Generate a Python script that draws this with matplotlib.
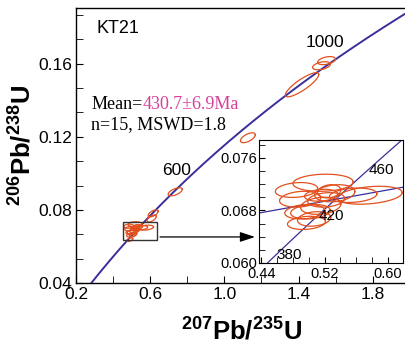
import numpy as np
import matplotlib
matplotlib.use("Agg")
import matplotlib.pyplot as plt
from matplotlib.patches import Rectangle
from matplotlib.ticker import MultipleLocator

plt.rcParams['font.family'] = ['Liberation Sans', 'DejaVu Sans']
plt.rcParams['mathtext.fontset'] = 'custom'
plt.rcParams['mathtext.rm'] = 'Liberation Sans:bold'
plt.rcParams['mathtext.bf'] = 'Liberation Sans:bold'
plt.rcParams['mathtext.it'] = 'Liberation Sans:bold'

# ---- data ----
sample = "KT21"
mean_label = "Mean="
mean_value = "430.7\u00b16.9Ma"
stats_label = "n=15, MSWD=1.8"

# decay constants (per year)
lambda238 = 1.55125e-10
lambda235 = 9.8485e-10

main_age_labels = [600, 1000]
main_age_label_x = [0.745, 1.54]
main_age_label_y = [0.1014, 0.1718]

inset_age_labels = [380, 420, 460]
inset_age_label_x = [0.4756, 0.528, 0.5918]
inset_age_label_y = [0.0612, 0.0672, 0.0742]

# outlying ellipses (main plot only): center x, center y, semi x, semi y, rho
out_x = [1.551, 1.524, 1.419, 1.127, 0.735, 0.616, 0.608, 0.49]
out_y = [0.1617, 0.1589, 0.1485, 0.1195, 0.0899, 0.0781, 0.0753, 0.0637]
out_sx = [0.048, 0.048, 0.090, 0.040, 0.038, 0.027, 0.025, 0.016]
out_sy = [0.0022, 0.0022, 0.0066, 0.0027, 0.0022, 0.0019, 0.0019, 0.0010]
out_rho = [0.4, 0.4, 0.85, 0.6, 0.6, 0.6, 0.6, 0.5]

# clustered ellipses (main plot and inset)
cl_x = [0.518, 0.4844, 0.489, 0.4946, 0.497, 0.5067, 0.577, 0.556,
        0.5327, 0.522, 0.515, 0.502, 0.5156, 0.5257]
cl_y = [0.0722, 0.0711, 0.0697, 0.0678, 0.0661, 0.0667, 0.0703, 0.0703,
        0.0706, 0.0696, 0.0687, 0.0678, 0.0703, 0.0709]
cl_sx = [0.038, 0.0267, 0.026, 0.025, 0.024, 0.021, 0.041, 0.030,
         0.0254, 0.0235, 0.0254, 0.025, 0.021, 0.0146]
cl_sy = [0.0013, 0.00113, 0.0012, 0.0011, 0.0010, 0.0011, 0.00136, 0.0011,
         0.0013, 0.0011, 0.0013, 0.0011, 0.0009, 0.0010]
cl_rho = [0.1, 0.2, 0.2, 0.2, 0.2, 0.2, 0.3, 0.2,
          0.2, 0.2, 0.2, 0.2, 0.2, 0.2]

# regression line in inset
reg_x = [0.40, 0.66]
reg_y = [0.0668, 0.0724]

# zoom box (main plot) and arrow
box_x = [0.454, 0.638]
box_y = [0.0636, 0.0734]
arrow_y = 0.0652
arrow_x_end = 1.18

ell_color = '#e2501e'
conc_color = '#3a2f9a'

fig = plt.figure(figsize=(4.06, 3.5), dpi=100)
ax = fig.add_axes([76/406, 1-283/350, 331/406, 275/350])

t = np.linspace(1e6, 1.3e9, 600)
cx = np.exp(lambda235*t) - 1
cy = np.exp(lambda238*t) - 1

def ellipse_pts(x0, y0, sx, sy, rho):
    th = np.linspace(0, 2*np.pi, 120)
    ex = x0 + sx*np.cos(th)
    ey = y0 + sy*(rho*np.cos(th) + np.sqrt(1-rho**2)*np.sin(th))
    return ex, ey

ax.plot(cx, cy, color=conc_color, lw=1.4, zorder=2)
for x0, y0, sx, sy, r in zip(out_x + cl_x, out_y + cl_y, out_sx + cl_sx,
                             out_sy + cl_sy, out_rho + cl_rho):
    ex, ey = ellipse_pts(x0, y0, sx, sy, r)
    ax.plot(ex, ey, color=ell_color, lw=0.9, zorder=3)

ax.set_xlim(0.2, 1.985)
ax.set_ylim(0.04, 0.1905)
ax.xaxis.set_minor_locator(MultipleLocator(0.2))
ax.yaxis.set_minor_locator(MultipleLocator(0.04/3))
ax.set_xticks([0.2, 0.6, 1.0, 1.4, 1.8])
ax.set_xticklabels(['0.2', '0.6', '1.0', '1.4', '1.8'])
ax.set_yticks([0.04, 0.08, 0.12, 0.16])
ax.set_yticklabels(['0.04', '0.08', '0.12', '0.16'])
ax.tick_params(which='both', direction='in', labelsize=12.5, top=False, right=False, pad=3, length=5)
for s in ax.spines.values():
    s.set_linewidth(1.0)

ax.set_xlabel(r'$^{207}$Pb/$^{235}$U', fontsize=18.5, fontweight='bold', labelpad=11)
ax.set_ylabel(r'$^{206}$Pb/$^{238}$U', fontsize=18.5, fontweight='bold', labelpad=1)

ax.text(0.313, 0.1795, sample, fontsize=13, va='center', ha='left')
for lab, lx, ly in zip(main_age_labels, main_age_label_x, main_age_label_y):
    ax.text(lx, ly, str(lab), fontsize=12.5, ha='center', va='center')

t1 = ax.text(0.281, 0.1375, mean_label, fontsize=13, family='Liberation Serif',
             va='center', ha='left')
ax.annotate(mean_value, xy=(1, 0), xycoords=t1, va='bottom', ha='left',
            fontsize=13, family='Liberation Serif', color='#d6409a')
ax.text(0.281, 0.1265, stats_label, fontsize=13, family='Liberation Serif',
        va='center', ha='left')

ax.add_patch(Rectangle((box_x[0], box_y[0]), box_x[1]-box_x[0], box_y[1]-box_y[0],
                       fill=False, edgecolor='#333333', lw=1.0, zorder=4))
ax.annotate('', xy=(arrow_x_end, arrow_y), xytext=(box_x[1], arrow_y),
            arrowprops=dict(arrowstyle='-|>,head_length=0.9,head_width=0.3',
                            color='black', lw=0.9))

# inset
axi = fig.add_axes([259/406, 1-263/350, 144/406, 123/350])
axi.plot(cx, cy, color=conc_color, lw=0.9, zorder=2)
axi.plot(reg_x, reg_y, color=conc_color, lw=0.9, zorder=2)
for x0, y0, sx, sy, r in zip(cl_x, cl_y, cl_sx, cl_sy, cl_rho):
    ex, ey = ellipse_pts(x0, y0, sx, sy, r)
    axi.plot(ex, ey, color=ell_color, lw=0.9, zorder=3)
axi.set_xlim(0.437, 0.619)
axi.set_ylim(0.0600, 0.0787)
axi.set_xticks([0.44, 0.52, 0.60])
axi.set_xticklabels(['0.44', '0.52', '0.60'])
axi.set_yticks([0.060, 0.068, 0.076])
axi.set_yticklabels(['0.060', '0.068', '0.076'])
axi.xaxis.set_minor_locator(MultipleLocator(0.02))
axi.yaxis.set_minor_locator(MultipleLocator(0.002))
axi.tick_params(which='both', direction='in', labelsize=10.5, pad=1, length=4)
axi.tick_params(axis='x', pad=3)
axi.patch.set_facecolor('white')
for lab, lx, ly in zip(inset_age_labels, inset_age_label_x, inset_age_label_y):
    axi.text(lx, ly, str(lab), fontsize=11, ha='center', va='center')

fig.savefig('out.png', dpi=100)
